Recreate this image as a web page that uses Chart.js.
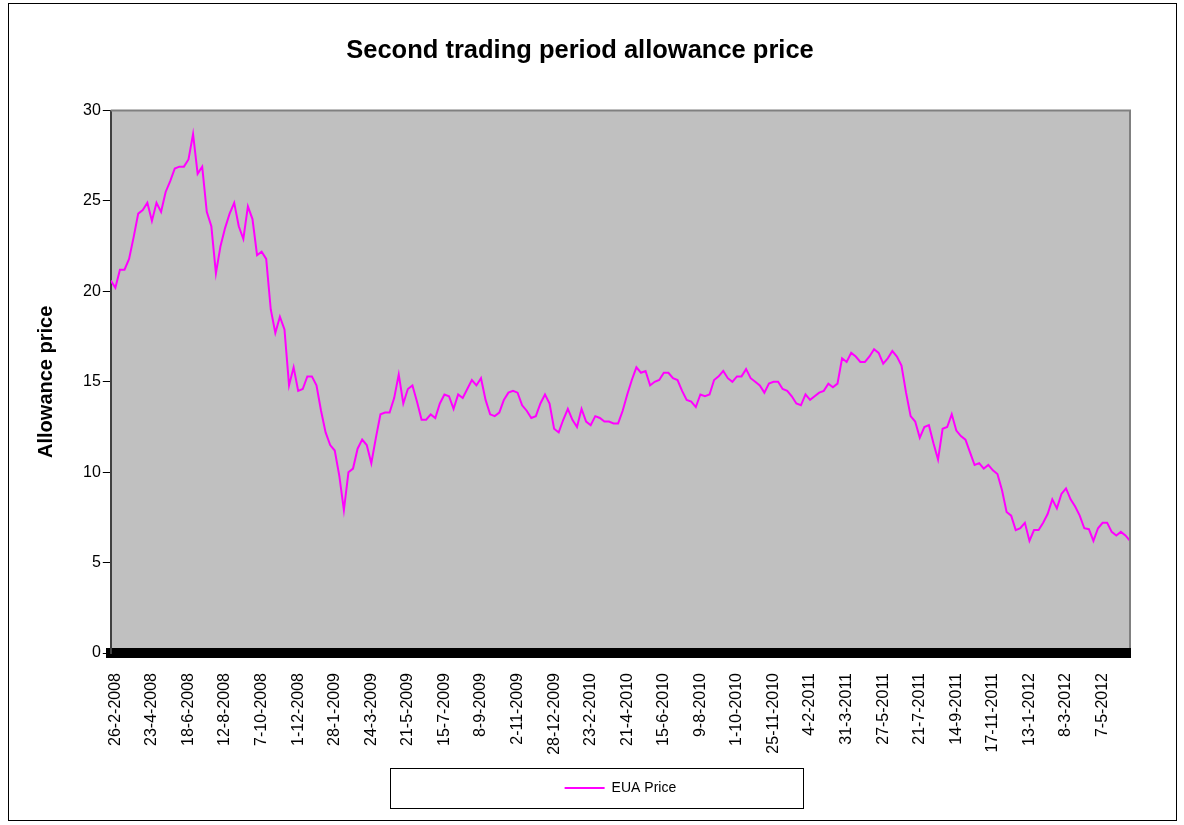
<!DOCTYPE html>
<html>
<head>
<meta charset="utf-8">
<title>Second trading period allowance price</title>
<script src="https://cdn.jsdelivr.net/npm/chart.js@4.4.1/dist/chart.umd.min.js"></script>
<style>
  html, body { margin: 0; padding: 0; background: #fff; }
  #wrap { width: 1184px; height: 825px; }
</style>
</head>
<body>
<div id="wrap"><canvas id="priceChart" width="1184" height="825"></canvas></div>
<script>
// tick labels, one every 40 trading days
const tickLabels = [
  '26-2-2008', '23-4-2008', '18-6-2008', '12-8-2008', '7-10-2008', '1-12-2008',
  '28-1-2009', '24-3-2009', '21-5-2009', '15-7-2009', '8-9-2009', '2-11-2009',
  '28-12-2009', '23-2-2010', '21-4-2010', '15-6-2010', '9-8-2010', '1-10-2010',
  '25-11-2010', '4-2-2011', '31-3-2011', '27-5-2011', '21-7-2011', '14-9-2011',
  '17-11-2011', '13-1-2012', '8-3-2012', '7-5-2012'
];

// EUA price, one reading every 5 trading days
const price2008 = [
  20.6, 20.2, 21.2, 21.2, 21.8, 23.0, 24.3, 24.5, 24.9, 23.9,
  24.9, 24.4, 25.5, 26.1, 26.8, 26.9, 26.9, 27.3, 28.7, 26.5,
  26.9, 24.4, 23.6, 21.0, 22.5, 23.5, 24.3, 24.9, 23.6, 22.9,
  24.7, 24.0, 22.0, 22.2, 21.8, 19.0, 17.7, 18.6, 17.9, 14.8,
  15.8, 14.5, 14.6, 15.3, 15.3, 14.8
];
const price2009 = [
  13.4, 12.2, 11.5, 11.2, 9.8, 7.9, 10.0, 10.2, 11.3, 11.8,
  11.5, 10.5, 11.9, 13.2, 13.3, 13.3, 14.1, 15.4, 13.8, 14.6,
  14.8, 13.9, 12.9, 12.9, 13.2, 13.0, 13.8, 14.3, 14.2, 13.5,
  14.3, 14.1, 14.6, 15.1, 14.8, 15.2, 14.0, 13.2, 13.1, 13.3,
  14.0, 14.4, 14.5, 14.4, 13.7, 13.4, 13.0, 13.1, 13.8, 14.3,
  13.8, 12.4
];
const price2010 = [
  12.2, 12.9, 13.5, 12.9, 12.5, 13.5, 12.8, 12.6, 13.1, 13.0,
  12.8, 12.8, 12.7, 12.7, 13.4, 14.3, 15.1, 15.8, 15.5, 15.6,
  14.8, 15.0, 15.1, 15.5, 15.5, 15.2, 15.1, 14.5, 14.0, 13.9,
  13.6, 14.3, 14.2, 14.3, 15.1, 15.3, 15.6, 15.2, 15.0, 15.3,
  15.3, 15.7, 15.2, 15.0, 14.8, 14.4, 14.9, 15.0, 15.0, 14.6,
  14.5
];
const price2011 = [
  14.2, 13.8, 13.7, 14.3, 14.0, 14.2, 14.4, 14.5, 14.9, 14.7,
  14.9, 16.3, 16.1, 16.6, 16.4, 16.1, 16.1, 16.4, 16.8, 16.6,
  16.0, 16.3, 16.7, 16.4, 15.9, 14.4, 13.1, 12.8, 11.9, 12.5,
  12.6, 11.6, 10.7, 12.4, 12.5, 13.2, 12.3, 12.0, 11.8, 11.1,
  10.4, 10.5, 10.2, 10.4, 10.1, 9.9, 9.0, 7.8, 7.6, 6.8,
  6.9
];
const price2012 = [
  7.2, 6.2, 6.8, 6.8, 7.2, 7.7, 8.5, 8.0, 8.8, 9.1,
  8.5, 8.1, 7.6, 6.9, 6.85, 6.2, 6.9, 7.2, 7.2, 6.7,
  6.5, 6.7, 6.5, 6.2
];

const FIRST_DAY = -5;   // first reading, trading days from 26-2-2008
const STEP = 5;         // trading days between readings
const TICK_STEP = 40;   // trading days between tick labels

const prices = [].concat(price2008, price2009, price2010, price2011, price2012);
const points = prices.map((v, i) => ({ x: FIRST_DAY + i * STEP, y: v }));

const chartFrame = {
  id: 'chartFrame',
  beforeDraw(chart) {
    const { ctx, chartArea: a } = chart;
    ctx.save();
    ctx.fillStyle = '#fff';
    ctx.fillRect(0, 0, chart.width, chart.height);
    ctx.fillStyle = '#c0c0c0';
    ctx.fillRect(a.left, a.top, a.right - a.left, a.bottom - a.top);
    ctx.restore();
  },
  afterDraw(chart) {
    const { ctx, chartArea: a } = chart;
    ctx.save();
    // plot border top and right
    ctx.strokeStyle = '#808080';
    ctx.lineWidth = 2;
    ctx.beginPath();
    ctx.moveTo(a.left, a.top);
    ctx.lineTo(a.right, a.top);
    ctx.lineTo(a.right, a.bottom - 5);
    ctx.stroke();
    // legend box
    const hb = chart.legend.legendHitBoxes[0];
    if (hb) {
      const cy = hb.top + hb.height / 2;
      ctx.strokeStyle = '#000';
      ctx.lineWidth = 1;
      ctx.strokeRect(Math.round(hb.left - 175) + 0.5, Math.round(cy - 20) + 0.5, 413, 40);
    }
    // outer frame
    ctx.strokeStyle = '#000';
    ctx.lineWidth = 1;
    ctx.strokeRect(8.5, 3.5, 1168, 817);
    ctx.restore();
  }
};

const ctx = document.getElementById('priceChart').getContext('2d');
const priceChart = new Chart(ctx, {
  type: 'line',
  data: {
    datasets: [{
      label: 'EUA Price',
      data: points,
      borderColor: '#ff00ff',
      backgroundColor: '#ff00ff',
      borderWidth: 2,
      pointRadius: 0,
      tension: 0,
      fill: false
    }]
  },
  options: {
    responsive: false,
    animation: false,
    layout: { padding: { top: 20, left: 30, right: 54, bottom: 20 } },
    plugins: {
      title: {
        display: true,
        text: 'Second trading period allowance price',
        color: '#000',
        font: { family: 'Liberation Sans, Arial, sans-serif', size: 25.5, weight: 'bold' },
        padding: { top: 16, bottom: 44 }
      },
      legend: {
        position: 'bottom',
        fullSize: false,
        labels: {
          color: '#000',
          font: { family: 'Liberation Sans, Arial, sans-serif', size: 14 },
          usePointStyle: true,
          pointStyle: 'line',
          pointStyleWidth: 40,
          padding: 10
        }
      },
      tooltip: { enabled: false }
    },
    scales: {
      x: {
        type: 'linear',
        min: FIRST_DAY,
        max: FIRST_DAY + (prices.length - 1) * STEP,
        grid: { display: false },
        border: { display: true, color: '#000', width: 10 },
        afterFit: (scale) => { scale.height = 118; },
        ticks: {
          stepSize: TICK_STEP,
          includeBounds: false,
          autoSkip: false,
          minRotation: 90,
          maxRotation: 90,
          padding: 12,
          color: '#000',
          font: { family: 'Liberation Sans, Arial, sans-serif', size: 16 },
          callback: (value) => tickLabels[value / TICK_STEP]
        }
      },
      y: {
        min: 0,
        max: 30,
        grid: { drawOnChartArea: false, drawTicks: true, tickLength: 8, color: '#000' },
        border: { display: true, color: '#404040', width: 2 },
        ticks: {
          stepSize: 5,
          padding: 2,
          color: '#000',
          font: { family: 'Liberation Sans, Arial, sans-serif', size: 16 }
        },
        title: {
          display: true,
          text: 'Allowance price',
          color: '#000',
          font: { family: 'Liberation Sans, Arial, sans-serif', size: 20, weight: 'bold' },
          padding: { top: 4, bottom: 23 }
        }
      }
    }
  },
  plugins: [chartFrame]
});
</script>
</body>
</html>
